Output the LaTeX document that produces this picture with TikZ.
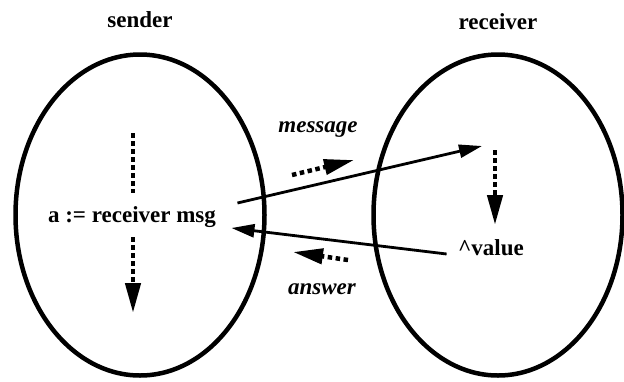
\documentclass[tikz,border=0pt]{standalone}
\usepackage{fontspec}
\setmainfont{Liberation Serif}
\usetikzlibrary{arrows.meta, positioning, shapes.geometric}

\begin{document}
\begin{tikzpicture}[
    x=1pt, y=-1pt,
    object/.style={draw, ellipse, line width=4.5pt, minimum width=249pt, minimum height=321pt},
    title/.style={font=\fontsize{23}{27}\selectfont\bfseries},
    label/.style={font=\fontsize{23}{27}\selectfont\bfseries\itshape},
    send/.style={-{Triangle[length=23pt, width=13pt]}, line width=2.8pt},
    flow/.style={line width=4.5pt, dash pattern=on 4.5pt off 3.5pt},
    flowarrow/.style={flow, -{Triangle[length=30pt, width=15pt]}}
]
\useasboundingbox (0,0) rectangle (624,381);

% the two objects
\node[object] (sender) at (140,215) {};
\node[object] (receiver) at (498,215) {};
\node[title] (sendername) at (140,20) {sender};
\node[title] (receivername) at (498,22) {receiver};

% statements
\node[title] (stmt) at (132,217) {a := receiver msg};
\node[title] (value) at (491,248) {\^{}value};

% control flow
\coordinate (s1) at (133,133);
\coordinate (s2) at (133,193);
\coordinate (s3) at (133,237);
\coordinate (s4) at (133,313);
\coordinate (r1) at (495,150);
\coordinate (r2) at (495,225);
\draw[flow] (s1) -- (s2);
\draw[flowarrow] (s3) -- (s4);
\draw[flowarrow] (r1) -- (r2);

% message and answer
\coordinate (msgin) at (482,146);
\draw[send] ([xshift=18pt,yshift=14pt]stmt.east) -- (msgin);
\draw[send] ([xshift=-8pt,yshift=-6pt]value.west) -- ([xshift=12pt,yshift=-11pt]stmt.east);

\coordinate (m1) at (292,175);
\coordinate (m2) at (354,160);
\coordinate (a1) at (348,260);
\coordinate (a2) at (293,252);
\draw[flowarrow] (m1) -- (m2);
\draw[flowarrow] (a1) -- (a2);
\node[label] (msgname) at (318,130) {message};
\node[label] (ansname) at (322,289) {answer};
\end{tikzpicture}
\end{document}
